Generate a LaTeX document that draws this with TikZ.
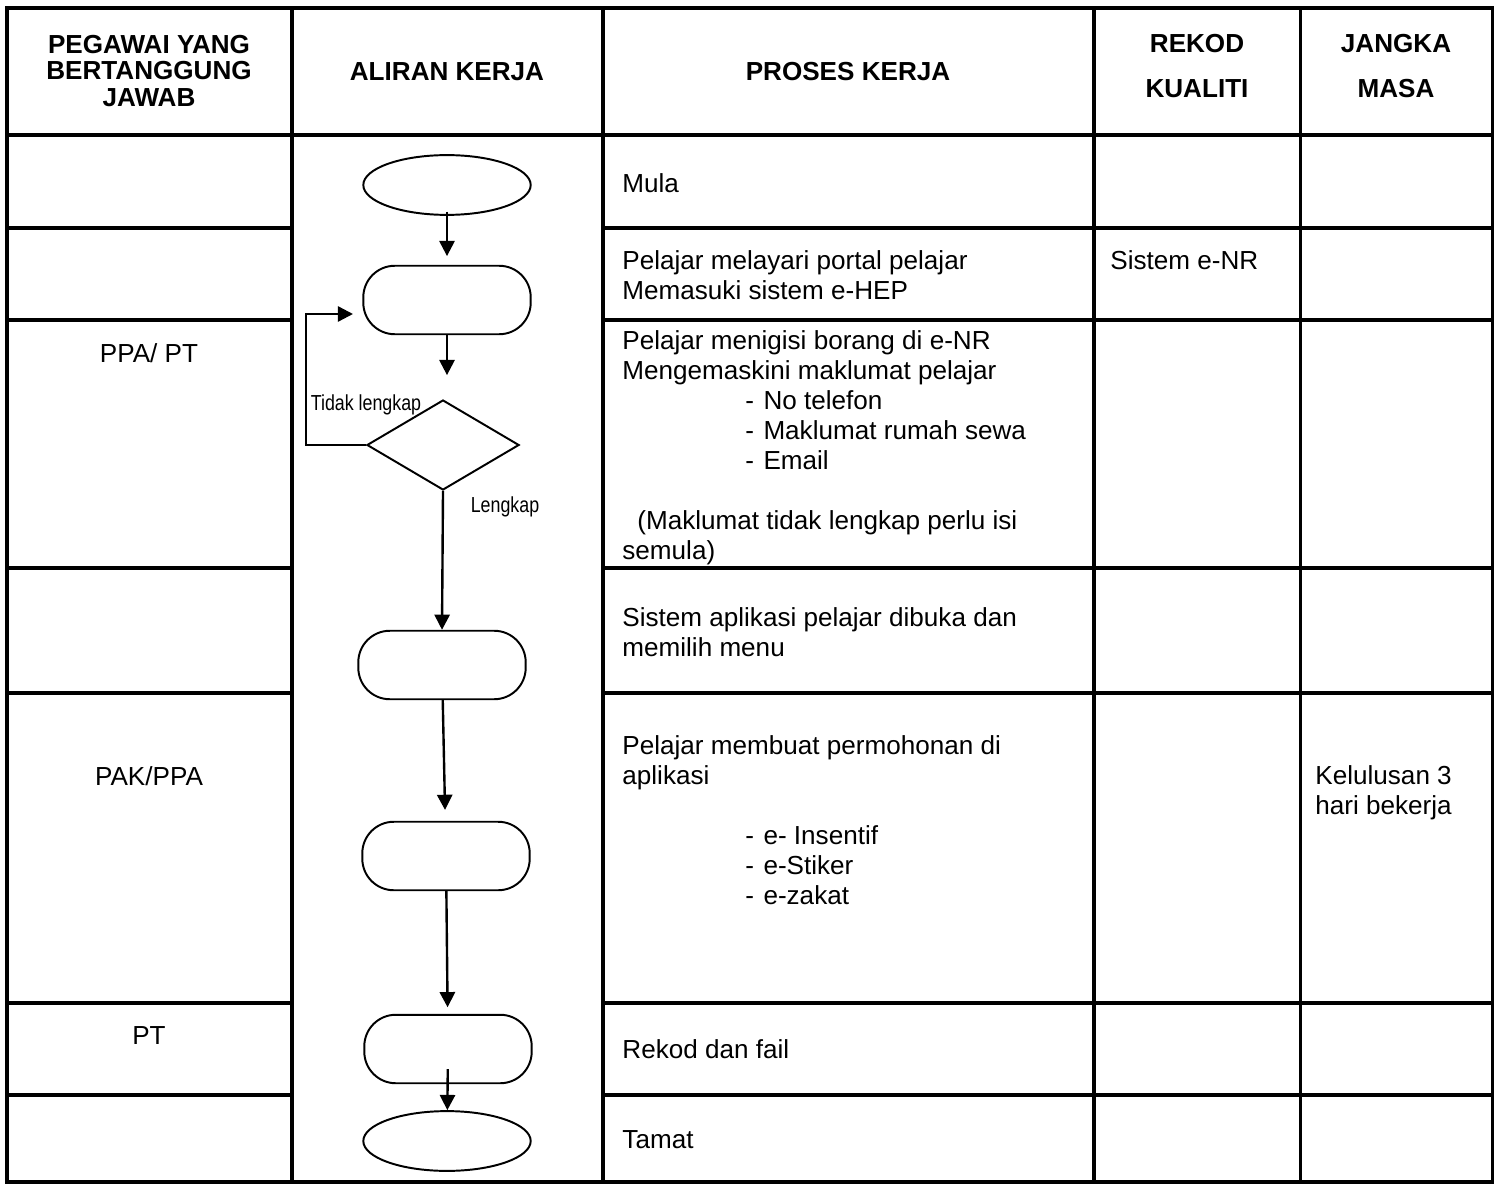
\documentclass[tikz,border=0pt]{standalone}
\usepackage{fontspec}
\setmainfont{Liberation Sans}
\newfontfamily\narrowfont[FakeStretch=0.82]{Liberation Sans}
\usetikzlibrary{shapes.geometric,arrows.meta}

% dash item inside the process column
\newcommand{\butir}[1]{\makebox[64.9pt][l]{\hspace{56.6pt}-}#1}

\tikzset{
	terminal/.style={ellipse, draw, line width=0.9pt, minimum width=77pt, minimum height=27.5pt, inner sep=0pt},
	process/.style={rectangle, rounded corners=14.5pt, draw, line width=0.9pt, minimum width=77pt, minimum height=31.5pt, inner sep=0pt},
	decision/.style={diamond, draw, line width=0.9pt, minimum width=70pt, minimum height=41.4pt, inner sep=0pt},
	flow/.style={line width=1.1pt, -{Triangle[length=7pt,width=7pt]}},
	tableline/.style={line width=1.4pt},
	cellhead/.style={font=\fontsize{12}{12}\selectfont\bfseries, align=center, inner sep=0pt},
	celltext/.style={font=\fontsize{12}{13.8}\selectfont, align=left, inner sep=0pt},
	lbl/.style={font=\fontsize{10}{12}\narrowfont, inner sep=0pt}
}

\begin{document}
\begin{tikzpicture}[x=0.46pt,y=-0.46pt]
	\useasboundingbox (0,0) rectangle (1499,1184);

	% table frame, the flow column is one merged cell
	\draw[tableline] (7,8) rectangle (1492,1182);
	\foreach \x in {292,603,1094,1300}
		\draw[tableline] (\x,8) -- (\x,1182);
	\draw[tableline] (7,135) -- (1492,135);
	\foreach \y in {228,320,568,693,1003,1095}
		\draw[tableline] (7,\y) -- (292,\y) (603,\y) -- (1492,\y);

	% header
	\node[cellhead] (hpegawai) at (149,71) {PEGAWAI YANG\\BERTANGGUNG\\JAWAB};
	\node[cellhead] (haliran) at (447,72) {ALIRAN KERJA};
	\node[cellhead] (hproses) at (848,72) {PROSES KERJA};
	\node[cellhead, font=\fontsize{12}{20.7}\selectfont\bfseries] (hrekod) at (1197,66) {REKOD\\KUALITI};
	\node[cellhead, font=\fontsize{12}{20.7}\selectfont\bfseries] (hjangka) at (1396,66) {JANGKA\\MASA};

	% officers
	\node[celltext] (ppa) at (149,353) {PPA/ PT};
	\node[celltext] (pak) at (149,776) {PAK/PPA};
	\node[celltext] (pt) at (149,1036) {PT};

	% flow chart
	\node[terminal] (mula) at (447,185) {};
	\node[process] (portal) at (447,300) {};
	\node[decision] (semak) at (443,445) {};
	\node[process] (menu) at (442,665) {};
	\node[process] (mohon) at (446,856) {};
	\node[process] (rekod) at (448,1049) {};
	\node[terminal] (tamat) at (447,1141) {};
	\coordinate (balik) at (353,314);

	\draw[flow, shorten <=-2pt, shorten >=4pt] (mula) -- (portal);
	\draw[flow, shorten >=11pt] (portal.south) -- (portal.south |- semak.north);
	\draw[flow] (semak.south) -- (menu.north);
	\draw[flow, shorten >=5pt] (menu) -- (mohon);
	\draw[flow, shorten >=3pt] (mohon) -- (rekod);
	\draw[flow, shorten <=-7pt] (rekod) -- (tamat);
	\draw[flow] (semak.west) -- ++(-60,0) |- (balik);

	\node[lbl] (tidak) at (366,405) {Tidak lengkap};
	\node[lbl] (lengkap) at (505,507) {Lengkap};

	% work process
	\node[celltext, anchor=west] (tmula) at (622,183) {Mula};
	\node[celltext, anchor=north west] (tportal) at (622,250)
		{Pelajar melayari portal pelajar\\Memasuki sistem e-HEP};
	\node[celltext, anchor=north west] (tborang) at (622,330)
		{Pelajar menigisi borang di e-NR\\Mengemaskini maklumat pelajar\\
		\butir{No telefon}\\\butir{Maklumat rumah sewa}\\\butir{Email}\\[13.8pt]
		\hspace*{6.9pt}(Maklumat tidak lengkap perlu isi\\semula)};
	\node[celltext, anchor=north west] (tmenu) at (622,607)
		{Sistem aplikasi pelajar dibuka dan\\memilih menu};
	\node[celltext, anchor=north west] (tmohon) at (622,735)
		{Pelajar membuat permohonan di\\aplikasi\\[13.8pt]
		\butir{e- Insentif}\\\butir{e-Stiker}\\\butir{e-zakat}};
	\node[celltext, anchor=west] (trekod) at (622,1049) {Rekod dan fail};
	\node[celltext, anchor=west] (ttamat) at (622,1140) {Tamat};

	% quality record and time
	\node[celltext, anchor=west] (enr) at (1110,260) {Sistem e-NR};
	\node[celltext, anchor=north west] (lulus) at (1315,765) {Kelulusan 3\\hari bekerja};

\end{tikzpicture}
\end{document}
